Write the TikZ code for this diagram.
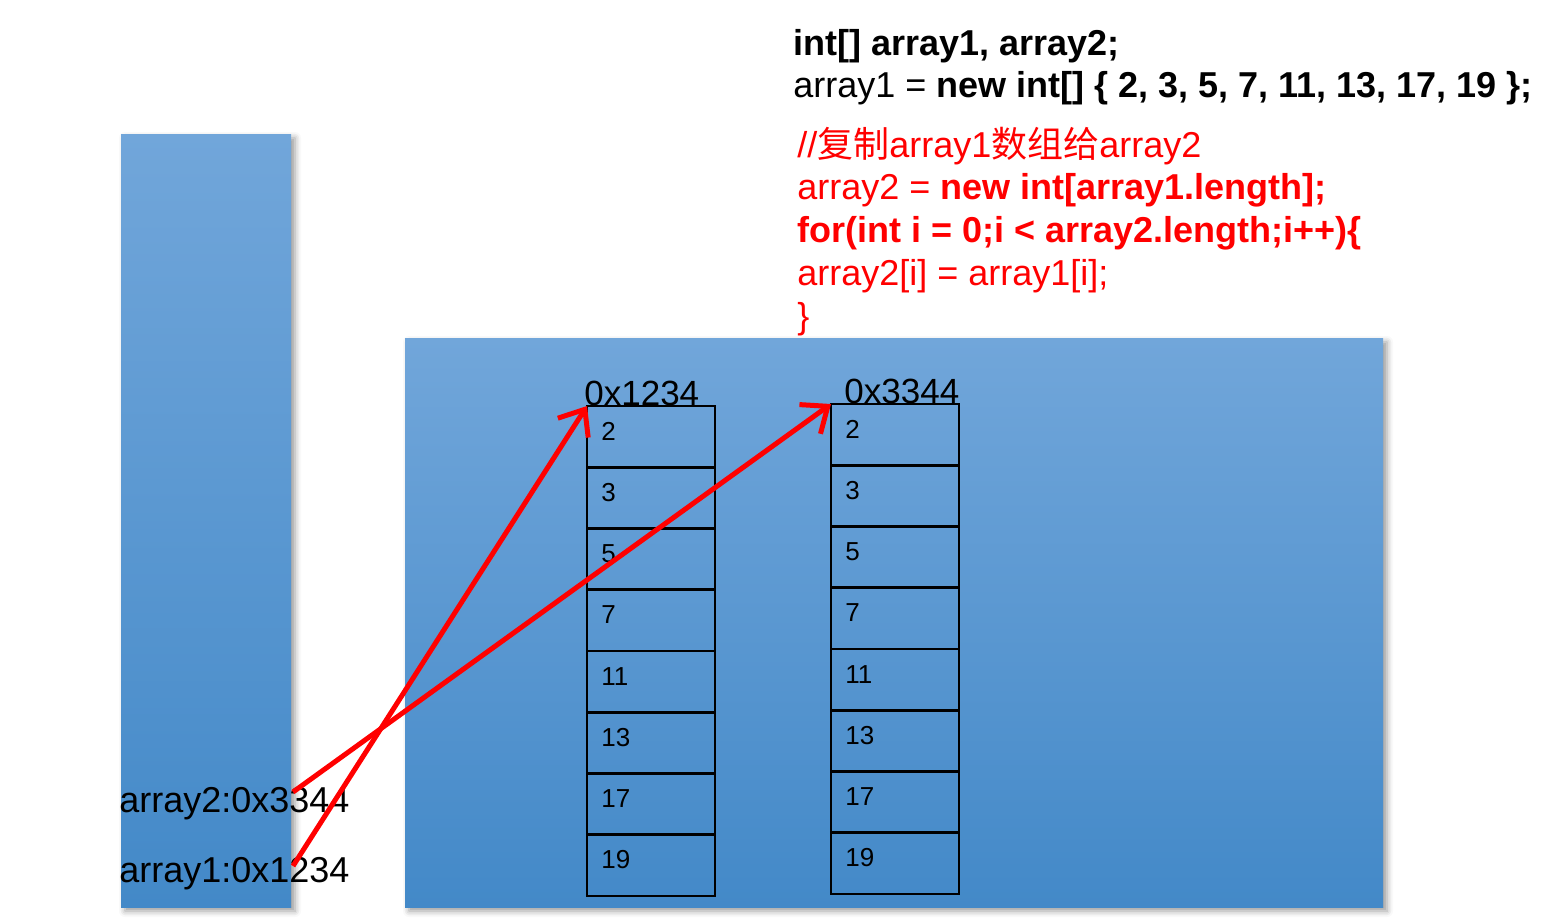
\documentclass[tikz,border=0pt]{standalone}
\usepackage{fontspec}
\setmainfont{Liberation Sans}
\newfontfamily\cjk{Noto Sans CJK SC}
\usetikzlibrary{arrows.meta,shadows.blur}
\definecolor{memtop}{RGB}{113,166,218}
\definecolor{membot}{RGB}{67,137,200}
\definecolor{refred}{RGB}{255,0,0}

\begin{document}
\begin{tikzpicture}[
  x=0.5pt, y=-0.5pt,
  mem/.style={draw=none, top color=memtop, bottom color=membot, anchor=north west, inner sep=0pt, outer sep=0pt,
              blur shadow={shadow xshift=2pt, shadow yshift=-2pt, shadow blur radius=3pt, shadow opacity=40}},
  cell/.style={rectangle, draw=black, line width=1.3pt, minimum width=64pt, minimum height=30.625pt,
               inner sep=0pt, outer sep=0pt, anchor=north west},
  num/.style={anchor=base west, inner sep=0pt, font=\fontsize{13pt}{15pt}\selectfont},
  addr/.style={anchor=base west, inner sep=0pt, font=\fontsize{17.5pt}{20pt}\selectfont},
  var/.style={anchor=base west, inner sep=0pt, font=\fontsize{18pt}{21pt}\selectfont},
  codeln/.style={anchor=base west, inner sep=0pt, font=\fontsize{18pt}{21pt}\selectfont},
  redln/.style={codeln, text=refred},
  ref/.style={-{Straight Barb[length=11pt,width=18pt]}, draw=refred, line width=2.5pt},
]
\useasboundingbox (0,0) rectangle (1546,923);

% stack and heap
\node[mem, minimum width=85pt, minimum height=386.5pt] (stack) at (121,134) {};
\node[mem, minimum width=489pt, minimum height=284.5pt] (heap) at (405,338) {};

% the two arrays
\foreach \v [count=\i] in {2,3,5,7,11,13,17,19}{
  \node[cell] (a\i) at (587,{406+61.25*(\i-1)}) {};
  \node[num] at ([shift={(14,34)}]a\i.north west) {\v};
  \node[cell] (b\i) at (831,{404+61.25*(\i-1)}) {};
  \node[num] at ([shift={(14,34)}]b\i.north west) {\v};
}
\node[addr] (h1) at ([shift={(-3,-1)}]a1.north west) {0x1234};
\node[addr] (h2) at ([shift={(13,-1)}]b1.north west) {0x3344};

% variables on the stack
\node[var] (v2) at (119,812) {array2:0x3344};
\node[var] (v1) at (119,882) {array1:0x1234};
\coordinate (p2) at (293,792);
\coordinate (p1) at (293,866);

% code
\node[codeln] (c1) at (793,55) {\bfseries int[] array1, array2;};
\node[codeln] (c2) at (793,97) {array1 = \textbf{new int[] \{ 2, 3, 5, 7, 11, 13, 17, 19 \};}};
\node[redln] (c3) at (797,157) {//{\cjk 复制}array1{\cjk 数组给}array2};
\node[redln] (c4) at (797,199) {array2 = \textbf{new int[array1.length];}};
\node[redln] (c5) at (797,242) {\bfseries for(int i = 0;i < array2.length;i++)\{};
\node[redln] (c6) at (797,285) {array2[i] = array1[i];};
\node[redln] (c7) at (797,328) {\}};

% references
\draw[ref] (p1) -- (a1.north west);
\draw[ref] (p2) -- (b1.north west);

\end{tikzpicture}
\end{document}
